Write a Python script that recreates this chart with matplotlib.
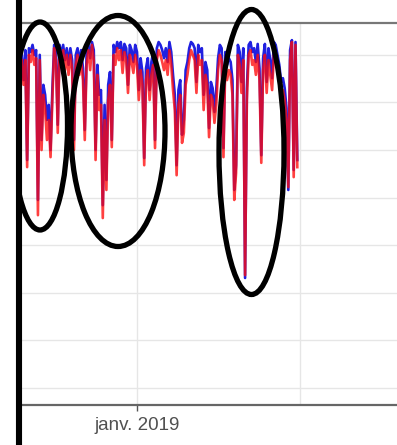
import numpy as np
import pandas as pd
import matplotlib
matplotlib.use("Agg")
import matplotlib.pyplot as plt
from matplotlib.patches import Ellipse
from matplotlib.lines import Line2D
from matplotlib.transforms import Bbox, TransformedBbox

# series sampled every 2 days from 2018-08-26
start_date = "2018-08-26"
red_values = [
    68.9, 63.7, 68.9, 46.4, 70.0, 68.5, 71.0, 67.9, 69.3, 36.3,
    68.9, 50.0, 61.6, 58.4, 52.1, 56.3, 48.5, 60.5, 71.4, 68.9,
    53.6, 70.6, 67.9, 71.0, 66.8, 70.0, 65.8, 70.0, 66.8, 50.0,
    67.9, 70.0, 65.8, 68.9, 64.7, 52.1, 67.9, 71.0, 66.8, 72.1,
    68.9, 47.9, 65.8, 58.4, 59.5, 35.7, 56.3, 41.6, 60.5, 63.7,
    50.6, 70.0, 67.9, 71.4, 68.9, 71.0, 66.2, 70.6, 68.9, 62.0,
    70.0, 68.5, 66.2, 70.0, 67.9, 60.5, 66.8, 63.7, 46.8, 64.7,
    66.8, 60.5, 65.8, 67.9, 50.4, 68.9, 71.0, 70.0, 68.5, 66.8,
    68.9, 65.8, 71.0, 67.9, 62.6, 58.4, 44.7, 59.5, 61.6, 51.5,
    53.6, 63.7, 65.8, 68.9, 71.0, 70.0, 68.9, 62.0, 70.0, 67.9,
    68.9, 58.4, 65.8, 63.7, 52.7, 61.6, 60.5, 55.7, 59.5, 66.8,
    70.0, 68.9, 48.5, 67.9, 64.7, 66.8, 65.8, 61.6, 39.5, 45.2,
    70.0, 67.9, 62.0, 68.9, 23.7, 60.5, 70.0, 71.0, 67.9, 68.9,
    65.8, 70.0, 64.7, 47.3, 66.8, 70.0, 62.0, 68.9, 65.8, 62.6,
    70.0, 68.9, 66.8, 64.7, 61.6, 62.6, 60.5, 56.3, 42.2, 68.9,
    72.7, 44.3, 72.1, 46.4,
]
blue_values = [
    70.0, 64.7, 71.0, 47.9, 71.4, 70.6, 72.1, 70.0, 71.0, 39.5,
    70.0, 52.1, 63.7, 61.6, 56.3, 59.5, 50.0, 62.6, 72.1, 71.0,
    55.3, 72.1, 70.0, 72.1, 68.9, 71.4, 67.9, 71.4, 68.9, 52.1,
    70.0, 71.4, 68.5, 71.0, 67.2, 54.2, 70.0, 72.3, 69.3, 72.7,
    71.0, 50.0, 67.9, 61.6, 62.6, 38.4, 59.5, 43.7, 63.7, 66.4,
    52.1, 72.1, 70.6, 72.7, 71.4, 72.7, 68.9, 72.3, 71.4, 63.7,
    72.1, 71.0, 68.5, 72.1, 70.6, 62.6, 69.3, 66.4, 48.3, 67.2,
    69.3, 62.6, 68.5, 70.6, 52.1, 71.4, 72.7, 72.1, 71.0, 69.3,
    71.4, 68.5, 72.7, 70.6, 65.8, 61.6, 46.8, 62.6, 64.7, 53.2,
    56.3, 66.8, 68.5, 71.4, 72.7, 72.3, 71.4, 64.3, 72.1, 70.6,
    71.4, 61.6, 68.5, 66.8, 54.6, 64.3, 63.0, 58.0, 62.6, 69.3,
    72.1, 71.4, 50.4, 70.6, 67.9, 69.3, 68.5, 64.7, 41.6, 46.8,
    72.1, 70.6, 64.3, 71.4, 23.1, 63.0, 72.1, 72.7, 70.6, 71.4,
    68.5, 72.3, 67.2, 48.9, 69.3, 72.3, 64.3, 71.4, 68.9, 65.1,
    72.7, 72.1, 70.0, 67.9, 64.3, 65.1, 63.0, 58.8, 41.6, 71.0,
    73.1, 45.8, 72.7, 47.9,
]
tick_dates = ["2019-01-01"]
tick_labels = ["janv. 2019"]
minor_dates = ["2019-07-01"]
y_grid = [0, 10, 20, 30, 40, 50, 60, 70]

dates = pd.date_range(start_date, periods=len(red_values), freq="2D")

W, H = 397, 445
fig = plt.figure(figsize=(W / 100, H / 100), dpi=100)
ax = fig.add_axes([22 / W, 40 / H, 375 / W, 382 / H])

ax.plot(dates, blue_values, color="#2020e0", lw=1.9, zorder=3)
ax.plot(dates, red_values, color="#ff0a0a", lw=1.9, alpha=0.78, zorder=4)

jan = pd.Timestamp("2019-01-01")
ax.set_xlim(jan - pd.Timedelta(days=127.7), jan + pd.Timedelta(days=288.7))
ax.set_ylim(-3.6, 76.7)

ax.set_xticks(pd.to_datetime(tick_dates))
ax.set_xticklabels(tick_labels, fontsize=13.5, color="#505050",
                   family=["Liberation Sans", "DejaVu Sans"])
ax.set_xticks(pd.to_datetime(minor_dates), minor=True)
ax.set_yticks(y_grid)
ax.tick_params(axis="y", left=False, labelleft=False)
ax.tick_params(axis="x", which="major", length=4, width=1, color="#555555", pad=5)
ax.tick_params(axis="x", which="minor", length=0)
ax.grid(True, which="both", color="#e6e6e6", lw=1, zorder=0)
ax.set_axisbelow(True)

for side in ["left", "right"]:
    ax.spines[side].set_visible(False)
ax.spines["top"].set_color("#777777")
ax.spines["top"].set_linewidth(1.6)
ax.spines["bottom"].set_color("#666666")
ax.spines["bottom"].set_linewidth(1.6)

# hand-drawn highlight ellipses, clipped at the black bar
clip = TransformedBbox(Bbox([[16 / W, 0], [1, 1]]), fig.transFigure)
for cx, cy, w, h in [(40, 126, 55, 208), (118, 131, 94, 231), (251.5, 152, 65, 285)]:
    e = Ellipse((cx / W, 1 - cy / H), w / W, h / H, transform=fig.transFigure,
                fill=False, edgecolor="black", lw=3.8, zorder=10)
    e.set_clip_box(clip)
    fig.add_artist(e)

fig.add_artist(Line2D([19 / W, 19 / W], [0, 1], transform=fig.transFigure,
                      color="black", lw=4.4, zorder=11))

fig.savefig("out.png", dpi=100)
